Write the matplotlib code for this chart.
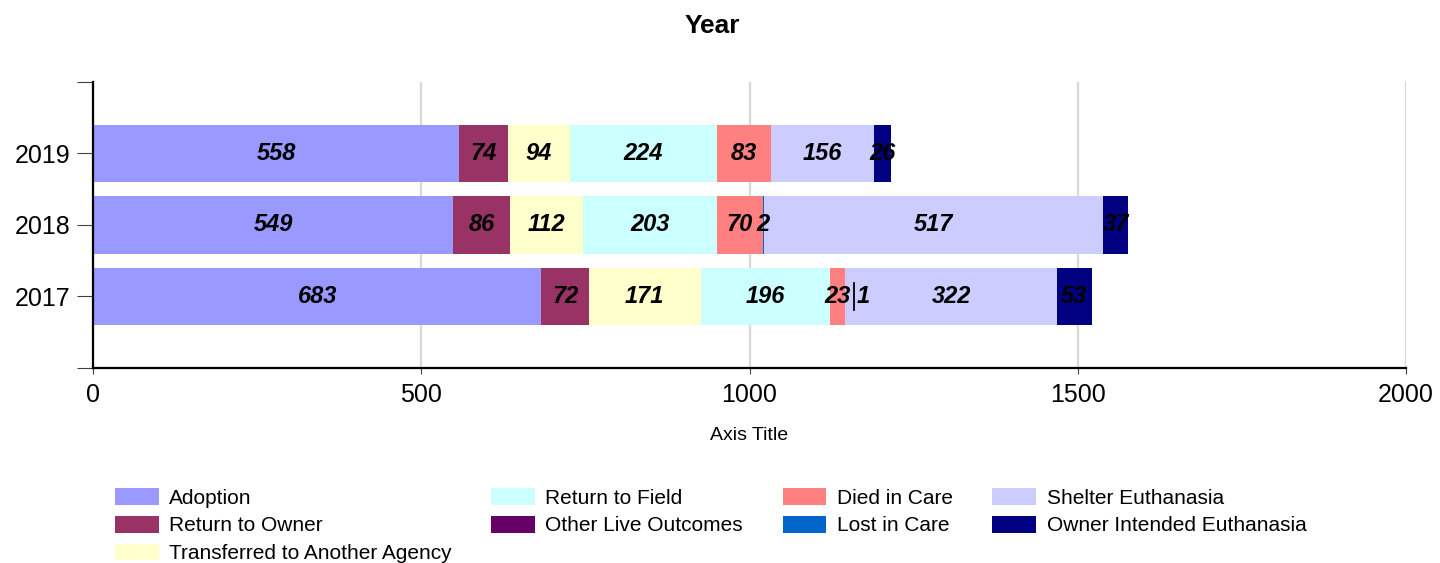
import matplotlib
matplotlib.use("Agg")
import matplotlib.pyplot as plt
import matplotlib.transforms as mtrans
import numpy as np

plt.rcParams['font.family'] = ['Liberation Sans', 'DejaVu Sans']

years = ["2017", "2018", "2019"]

adoption = [683, 549, 558]
return_to_owner = [72, 86, 74]
transferred = [171, 112, 94]
return_to_field = [196, 203, 224]
other_live = [0, 0, 0]
died_in_care = [23, 70, 83]
lost_in_care = [1, 2, 0]
shelter_euth = [322, 517, 156]
owner_euth = [53, 37, 26]

series = [
    ("Adoption", adoption, "#9999FF"),
    ("Return to Owner", return_to_owner, "#993366"),
    ("Transferred to Another Agency", transferred, "#FFFFCC"),
    ("Return to Field", return_to_field, "#CCFFFF"),
    ("Other Live Outcomes", other_live, "#660066"),
    ("Died in Care", died_in_care, "#FF8080"),
    ("Lost in Care", lost_in_care, "#0066CC"),
    ("Shelter Euthanasia", shelter_euth, "#CCCCFF"),
    ("Owner Intended Euthanasia", owner_euth, "#000080"),
]

fig = plt.figure(figsize=(14.4, 5.63), dpi=100)
ax = fig.add_axes([0.0646, 0.3464, 0.9118, 0.508])

y = np.arange(len(years))
left = np.zeros(len(years))
for name, vals, col in series:
    vals = np.array(vals, dtype=float)
    ax.barh(y, vals, left=left, height=0.81, color=col, label=name, zorder=2)
    for i, v in enumerate(vals):
        if v <= 0:
            continue
        cx = left[i] + v / 2
        if name == "Lost in Care" and years[i] == "2017":
            # label moved aside with a leader line, as in the original
            tr = mtrans.offset_copy(ax.transData, fig=fig, x=9, y=0, units="dots")
            ax.plot([cx, cx], [y[i] - 0.19, y[i] + 0.19], color="black",
                    lw=1.3, transform=tr, zorder=4)
            ax.annotate(f"{int(v)}", (cx, y[i]), xytext=(18, 0),
                        textcoords="offset pixels", ha="center", va="center",
                        fontsize=17, fontweight="bold", fontstyle="italic", zorder=5)
        else:
            ax.text(cx, y[i], f"{int(v)}", ha="center", va="center",
                    fontsize=17, fontweight="bold", fontstyle="italic", zorder=5)
    left = left + vals

ax.set_xlim(0, 2000)
ax.set_ylim(-1, len(years))
ax.set_xticks([0, 500, 1000, 1500, 2000])
ax.set_yticks(y)
ax.set_yticklabels(years)
ax.set_yticks([-1, len(years)], minor=True)

ax.grid(axis="x", color="#D9D9D9", lw=1.6, zorder=0)
ax.set_axisbelow(True)
for s in ["top", "right"]:
    ax.spines[s].set_visible(False)
ax.spines["left"].set_linewidth(1.6)
ax.spines["bottom"].set_linewidth(1.6)

ax.tick_params(axis="y", which="both", length=11.5, width=0.8, color="#404040",
               labelsize=18, pad=5)
ax.tick_params(axis="x", length=4, width=0.8, color="#404040", labelsize=18, pad=7)

ax.set_xlabel("Axis Title", fontsize=14, labelpad=14)
fig.text(0.495, 0.953, "Year", ha="center", va="center", fontsize=19,
         fontweight="bold")

handles, labels = ax.get_legend_handles_labels()
fig.legend(handles, labels, loc="upper left", bbox_to_anchor=(0.0798, 0.133),
           ncol=4, frameon=False, fontsize=15, handlelength=2.1,
           handleheight=0.85, handletextpad=0.5, columnspacing=1.9,
           labelspacing=0.4, borderpad=0, borderaxespad=0)

fig.savefig("out.png", dpi=100)
